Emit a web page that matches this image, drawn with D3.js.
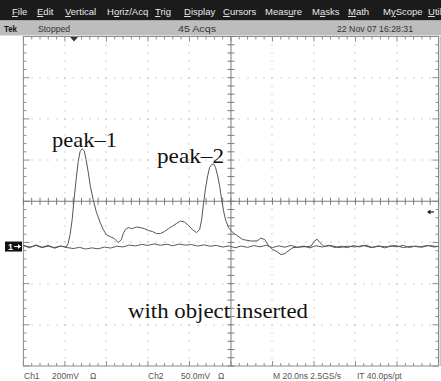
<!DOCTYPE html>
<html>
<head>
<meta charset="utf-8">
<script src="https://cdn.jsdelivr.net/npm/d3@7"></script>
<style>
  body { margin: 0; background: #fff; }
  svg { display: block; }
</style>
</head>
<body>
<svg id="scope" width="441" height="381"></svg>
<script>
// menu / status texts
const menuItems = ["File", "Edit", "Vertical", "Horiz/Acq", "Trig", "Display", "Cursors", "Measure", "Masks", "Math", "MyScope", "Util"];
const menuKeys = [0, 0, 0, 1, 0, 0, 0, 4, 1, 0, 1, 0];   // underlined letter
const statusTexts = ["Tek", "Stopped", "45 Acqs", "22 Nov 07 16:28:31"];
const footerTexts = ["Ch1", "200mV", "\u03A9", "Ch2", "50.0mV", "\u03A9", "M 20.0ns 2.5GS/s", "IT 40.0ps/pt"];

// Ch1, 200mV/div (time ns, mV)
const ch1T = [0, 3.1, 6.0, 8.9, 11.9, 14.8, 17.7, 20.6, 21.5, 22.5, 23.5, 24.4, 25.4, 26.4, 27.3, 28.3, 29.3, 30.2, 31.2, 32.2,
  33.6, 35.1, 37.0, 38.5, 39.9, 41.8, 43.8, 45.7, 47.2, 48.1, 49.1, 50.5, 52.5, 54.4, 56.4, 58.3, 60.2, 62.2, 64.1, 66.0,
  68.0, 69.9, 71.8, 73.8, 75.7, 77.6, 79.6, 81.5, 83.4, 84.9, 85.9, 86.8, 87.8, 88.8, 89.7, 90.7, 91.7, 92.6, 93.6, 94.6,
  95.5, 96.5, 97.5, 98.9, 100.9, 103.3, 105.7, 109.6, 112.5, 114.4, 116.3, 118.3, 120.2, 122.1, 124.1, 126.0, 127.5, 129.9,
  133.7, 136.7, 138.6, 140.0, 141.5, 142.9, 144.9, 148.2, 152.1, 156.0, 159.9, 163.7, 167.6, 171.5, 175.4, 179.2, 183.1,
  187.0, 190.8, 194.7, 200];
const ch1V = [5, -2, 5, -5, 2, -5, 2, -2, 14, 58, 131, 228, 325, 412, 461, 475, 465, 422, 364, 296,
  228, 170, 116, 82, 58, 48, 39, 19, 34, 63, 82, 92, 87, 95, 92, 87, 78, 73, 63, 63,
  73, 87, 99, 112, 124, 119, 102, 82, 68, 82, 131, 213, 286, 344, 383, 398, 402, 383, 344, 291,
  228, 170, 126, 92, 68, 51, 34, 27, 27, 41, 34, 2, -15, -24, -39, -34, -22, -5,
  -2, 0, 2, 24, 36, 19, 0, 5, -5, 2, -2, 5, -5, 2, -2, 5, -5,
  2, -2, 5, 0];

// Ch2, 50.0mV/div
const ch2T = [0, 3, 6, 9, 12, 15, 18, 21, 24, 27, 30, 33, 36, 39, 42, 45, 48, 51, 54, 57, 60, 63, 66, 69, 72, 75, 78, 81,
  84, 87, 90, 93, 96, 99, 102, 105, 108, 111, 114, 117, 120, 123, 126, 129, 132, 135, 138, 141, 144, 147, 150, 153,
  156, 159, 162, 165, 168, 171, 174, 177, 180, 183, 186, 189, 192, 195, 198, 200];
const ch2V = [1.2, -1.5, 2.0, -0.8, 1.5, -2.0, 0.6, -1.2, -2.4, -1.0, -3.0, -1.6, -2.8, -0.6, -1.8, 0.4, -0.5, 1.8, 0.8, 2.6,
  1.4, 3.2, 1.6, 2.8, 1.0, 3.0, 1.8, 2.4, 0.6, 2.0, 0.4, 1.4, -0.6, 0.8, -1.4, 0.6, -1.0, 1.2, -0.4, 1.6,
  -1.2, 0.8, -0.8, 1.4, -1.0, 0.6, -1.6, 1.0, -0.6, 1.6, -1.2, 0.4, -1.4, 1.2, -0.4, 1.8, -1.0, 0.8, -1.6, 1.0,
  -0.4, 1.4, -1.2, 0.6, -0.8, 1.2, -0.6, 0.4];

const ch1Scale = 200, ch2Scale = 50;     // mV per division
const ch1Pos = -1.1, ch2Pos = -1.1;      // ground position, divisions
const triggerT = 24.4, triggerLevel = -0.26;

const annotations = [
  {text: "peak\u20131", x: 52, y: 147, w: 65},
  {text: "peak\u20132", x: 157, y: 163, w: 67},
  {text: "with object inserted", x: 128, y: 318, w: 180}
];

const svg = d3.select("#scope");
const W = 441;

const x = d3.scaleLinear().domain([0, 200]).range([23.4, 438.5]);
const y = d3.scaleLinear().domain([-4, 4]).range([366, 36.5]);
const xL = x.range()[0], xR = x.range()[1], yT = y.range()[1], yB = y.range()[0];

// menu bar
svg.append("rect").attr("x", 0).attr("y", 0).attr("width", W).attr("height", 20.5).attr("fill", "#1b1b1b");
const menuX = [12, 37, 65, 107, 155, 184, 223, 265, 312, 348, 383, 428];
menuItems.forEach((m, i) => {
  const t = svg.append("text").attr("x", menuX[i]).attr("y", 15)
    .attr("font-family", "Liberation Sans, Arial, sans-serif").attr("font-size", 9.5).attr("fill", "#e8e8e8");
  const k = menuKeys[i];
  if (k > 0) t.append("tspan").text(m.slice(0, k));
  t.append("tspan").attr("text-decoration", "underline").text(m[k]);
  t.append("tspan").text(m.slice(k + 1));
});

// status bar
svg.append("rect").attr("x", 0).attr("y", 20.5).attr("width", W).attr("height", 15).attr("fill", "#bdbdbd");
const statusX = [4, 38, 178, 337], statusW = [13, 32, 38, 76];
statusTexts.forEach((s, i) => {
  svg.append("text").attr("x", statusX[i]).attr("y", 31.5)
    .attr("font-family", "Liberation Sans, Arial, sans-serif").attr("font-size", 9.5)
    .attr("font-weight", i === 0 ? "bold" : "normal")
    .attr("fill", i === 0 ? "#111" : "#333")
    .attr("textLength", statusW[i]).attr("lengthAdjust", "spacingAndGlyphs")
    .text(s);
});

// graticule
const grid = svg.append("g");
const minorX = d3.range(0, 201, 4), minorY = d3.range(-4, 4.001, 0.2);

// dotted division lines
d3.range(20, 200, 20).filter(t => t !== 100).forEach(t => {
  grid.selectAll(null).data(minorY).join("rect")
    .attr("x", Math.round(x(t)) - 0.5).attr("y", d => Math.round(y(d)) - 0.5)
    .attr("width", 1).attr("height", 1).attr("fill", "#a4a4a4");
});
d3.range(-3, 4, 1).filter(v => v !== 0).forEach(v => {
  grid.selectAll(null).data(minorX).join("rect")
    .attr("x", d => Math.round(x(d)) - 0.5).attr("y", Math.round(y(v)) - 0.5)
    .attr("width", 1).attr("height", 1).attr("fill", "#a4a4a4");
});

// border + ticks
grid.append("rect").attr("x", xL).attr("y", yT).attr("width", xR - xL).attr("height", yB - yT)
  .attr("fill", "none").attr("stroke", "#8c8c8c").attr("stroke-width", 1);
const isMajorX = d => Math.abs(d % 20) < 1e-6, isMajorY = d => Math.abs(Math.round(d) - d) < 1e-6;
grid.selectAll(null).data(minorX).join("line")
  .attr("x1", d => x(d)).attr("x2", d => x(d)).attr("y1", yT).attr("y2", d => yT + (isMajorX(d) ? 5 : 3))
  .attr("stroke", "#8c8c8c");
grid.selectAll(null).data(minorX).join("line")
  .attr("x1", d => x(d)).attr("x2", d => x(d)).attr("y1", yB).attr("y2", d => yB - (isMajorX(d) ? 5 : 3))
  .attr("stroke", "#8c8c8c");
grid.selectAll(null).data(minorY).join("line")
  .attr("y1", d => y(d)).attr("y2", d => y(d)).attr("x1", xL).attr("x2", d => xL + (isMajorY(d) ? 6 : 3))
  .attr("stroke", "#8c8c8c");
grid.selectAll(null).data(minorY).join("line")
  .attr("y1", d => y(d)).attr("y2", d => y(d)).attr("x1", xR).attr("x2", d => xR - (isMajorY(d) ? 6 : 3))
  .attr("stroke", "#8c8c8c");

// centre cross
grid.append("line").attr("x1", x(100)).attr("x2", x(100)).attr("y1", yT).attr("y2", yB).attr("stroke", "#7a7a7a");
grid.append("line").attr("x1", xL).attr("x2", xR).attr("y1", y(0)).attr("y2", y(0)).attr("stroke", "#7a7a7a");
grid.selectAll(null).data(minorY).join("line")
  .attr("y1", d => y(d)).attr("y2", d => y(d)).attr("x1", x(100) - 3.5).attr("x2", x(100) + 3.5)
  .attr("stroke", "#7a7a7a");
grid.selectAll(null).data(minorX).join("line")
  .attr("x1", d => x(d)).attr("x2", d => x(d)).attr("y1", y(0) - 3.5).attr("y2", y(0) + 3.5)
  .attr("stroke", "#7a7a7a");

// right edge strip
svg.append("rect").attr("x", 439.5).attr("y", yT).attr("width", 1.5).attr("height", yB - yT).attr("fill", "#c4c4c4");

// traces
const line1 = d3.line().x(d => x(d[0])).y(d => y(ch1Pos + d[1] / ch1Scale));
const line2 = d3.line().x(d => x(d[0])).y(d => y(ch2Pos + d[1] / ch2Scale));
svg.append("path").datum(d3.zip(ch2T, ch2V)).attr("d", line2)
  .attr("fill", "none").attr("stroke", "#5a5a5a").attr("stroke-width", 1);
svg.append("path").datum(d3.zip(ch1T, ch1V)).attr("d", line1)
  .attr("fill", "none").attr("stroke", "#555").attr("stroke-width", 1);

// ground marker
const gy = y(ch1Pos);
svg.append("rect").attr("x", 5).attr("y", gy - 5).attr("width", 17).attr("height", 10).attr("fill", "#111");
svg.append("text").attr("x", 8).attr("y", gy + 3.5).attr("font-family", "Liberation Sans, Arial, sans-serif")
  .attr("font-size", 9).attr("font-weight", "bold").attr("fill", "#fff").text("1");
svg.append("line").attr("x1", 14).attr("x2", 21).attr("y1", gy).attr("y2", gy).attr("stroke", "#fff");
svg.append("path").attr("d", `M21,${gy} l-3,-2.5 v5 z`).attr("fill", "#fff");

// trigger position & level markers
svg.append("path").attr("d", `M${x(triggerT) - 4},${yT + 0.5} h8 l-4,4.5 z`).attr("fill", "#333");
const ty = y(triggerLevel);
svg.append("line").attr("x1", 428).attr("x2", 434).attr("y1", ty).attr("y2", ty).attr("stroke", "#222").attr("stroke-width", 1.2);
svg.append("path").attr("d", `M427,${ty} l3.5,-2.5 v5 z`).attr("fill", "#222");

// annotations
annotations.forEach(a => {
  svg.append("text").attr("x", a.x).attr("y", a.y)
    .attr("font-family", "Liberation Serif, Times New Roman, serif").attr("font-size", 22)
    .attr("fill", "#111").attr("textLength", a.w).attr("lengthAdjust", "spacingAndGlyphs")
    .text(a.text);
});

// footer
const footerX = [24, 52, 90, 148, 181, 218, 273, 357];
footerTexts.forEach((f, i) => {
  svg.append("text").attr("x", footerX[i]).attr("y", 378.5)
    .attr("font-family", "Liberation Sans, Arial, sans-serif").attr("font-size", 8.5)
    .attr("fill", "#555").text(f);
});
</script>
</body>
</html>
